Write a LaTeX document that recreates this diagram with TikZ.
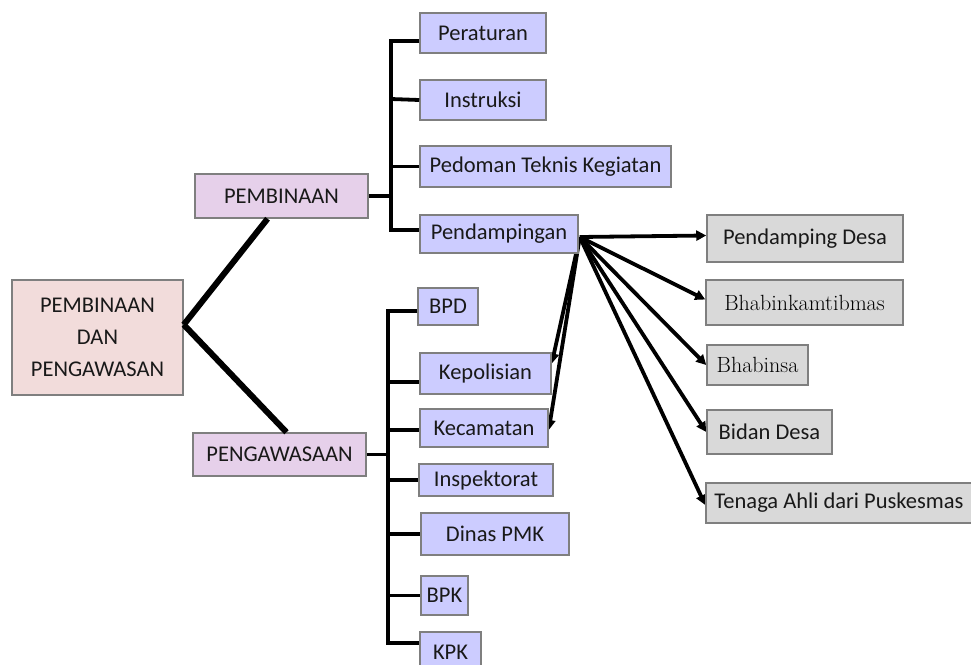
\documentclass[tikz,border=0pt]{standalone}
\usepackage{fontspec}
\setsansfont{Carlito}
\usetikzlibrary{arrows.meta,calc}
\pgfdeclarelayer{bg}
\pgfsetlayers{bg,main}
\definecolor{rootfill}{HTML}{F2DCDB}
\definecolor{midfill}{HTML}{E6D0EA}
\definecolor{leaffill}{HTML}{CCCCFF}
\definecolor{grayfill}{HTML}{D9D9D9}
\definecolor{edgegray}{HTML}{7F7F7F}
\tikzset{
  box/.style={draw=edgegray, line width=1.5pt, inner sep=0pt, align=center,
    font=\sffamily\fontsize{22.5}{32}\selectfont, text=black!90},
  rootbox/.style={box, fill=rootfill},
  midbox/.style={box, fill=midfill},
  leafbox/.style={box, fill=leaffill},
  graybox/.style={box, fill=grayfill},
  serifbox/.style={graybox, font=\rmfamily\fontsize{22}{26}\selectfont, text=black},
  trunk/.style={line width=6pt, black},
  bracket/.style={line width=3.8pt, black, line join=miter},
  ray/.style={line width=3.8pt, black, -{Triangle[length=10pt,width=10pt]}},
}
\newcommand{\bx}[7]{\node[#2, minimum width=#5pt, minimum height=#6pt] (#1) at (#3,#4) {#7};}
\begin{document}
\begin{tikzpicture}[x=1pt,y=-1pt]
\clip (0,0) rectangle (971,664);

% root and the two branches
\bx{root}{rootbox}{97.5}{337.5}{171}{115}{PEMBINAAN\\DAN\\PENGAWASAN}
\bx{pemb}{midbox}{281.5}{196}{173}{44}{PEMBINAAN}
\bx{peng}{midbox}{279.5}{454.5}{173}{43}{PENGAWASAAN}

% pembinaan leaves
\bx{per}{leafbox}{483}{33}{126}{40}{Peraturan}
\bx{ins}{leafbox}{483}{100}{126}{40}{Instruksi}
\bx{ped}{leafbox}{545.5}{166.5}{251}{41}{Pedoman Teknis Kegiatan}
\bx{pend}{leafbox}{499}{234}{158}{38}{Pendampingan}

% pengawasan leaves
\bx{bpd}{leafbox}{448}{306.5}{60}{37}{BPD}
\bx{kep}{leafbox}{485.5}{373.5}{131}{41}{Kepolisian}
\bx{kec}{leafbox}{484}{428}{128}{38}{Kecamatan}
\bx{insp}{leafbox}{486}{480}{134}{32}{Inspektorat}
\bx{dpmk}{leafbox}{495}{534}{148}{42}{Dinas PMK}
\bx{bpk}{leafbox}{444.5}{595.5}{47}{39}{BPK}
\bx{kpk}{leafbox}{450.5}{652}{61}{40}{KPK}

% pendampingan targets
\bx{pdesa}{graybox}{805}{238.5}{196}{47}{Pendamping Desa}
\bx{bhk}{serifbox}{804.5}{302.5}{197}{45}{Bhabinkamtibmas}
\bx{bhs}{serifbox}{757.5}{365}{101}{40}{Bhabinsa}
\bx{bid}{graybox}{769.5}{432}{125}{44}{Bidan Desa}
\bx{ten}{graybox}{839}{503}{266}{40}{Tenaga Ahli dari Puskesmas}

% trunk lines from the root
\coordinate (rj) at ($(root.north east)!0.39!(root.south east)$);
\draw[trunk] (rj) -- ($(pemb.south west)!0.42!(pemb.south east)$);
\draw[trunk] (rj) -- ($(peng.north west)!0.54!(peng.north east)$);

% upper bracket
\coordinate (ua) at (391,41);
\coordinate (ub) at (391,99);
\coordinate (uc) at (391,166.5);
\coordinate (ud) at (391,230);
\coordinate (um) at (391,196);
\draw[bracket] ([yshift=-8pt]per.west) -- (ua) -- (ud) -- ([yshift=4pt]pend.west);
\draw[bracket] (ub) -- (ins.west);
\draw[bracket] (uc) -- (ped.west);
\draw[bracket] (pemb.east) -- (um);

% lower bracket
\coordinate (la) at (388,311);
\coordinate (lb) at (388,382);
\coordinate (lc) at (388,430);
\coordinate (ld) at (388,480);
\coordinate (le) at (388,534);
\coordinate (lf) at (388,595.5);
\coordinate (lg) at (388,643);
\coordinate (lm) at (388,454.5);
\draw[bracket] ([yshift=-4.5pt]bpd.west) -- (la) -- (lg) -- ([yshift=9pt]kpk.west);
\draw[bracket] (lb) -- ([yshift=-8.5pt]kep.west);
\draw[bracket] (lc) -- ([yshift=-2pt]kec.west);
\draw[bracket] (ld) -- (insp.west);
\draw[bracket] (le) -- (dpmk.west);
\draw[bracket] (lf) -- (bpk.west);
\draw[bracket] (peng.east) -- (lm);

% arrows fanning out of Pendampingan, kept under the boxes
\coordinate (src) at ([yshift=-3pt,xshift=1pt]pend.east);
\begin{pgfonlayer}{bg}
\fill[white] (0,0) rectangle (971,664);
\draw[ray] (src) -- ([yshift=3pt]pdesa.west);
\draw[ray] (src) -- ([yshift=3pt]bhk.west);
\draw[ray] (src) -- (bhs.west);
\draw[ray] (src) -- (bid.west);
\draw[ray] (src) -- ([yshift=-2pt]ten.west);
\draw[ray] (src) -- ([yshift=10pt]kep.east);
\draw[ray] (src) -- ([yshift=-2pt]kec.east);
\end{pgfonlayer}
\end{tikzpicture}
\end{document}
